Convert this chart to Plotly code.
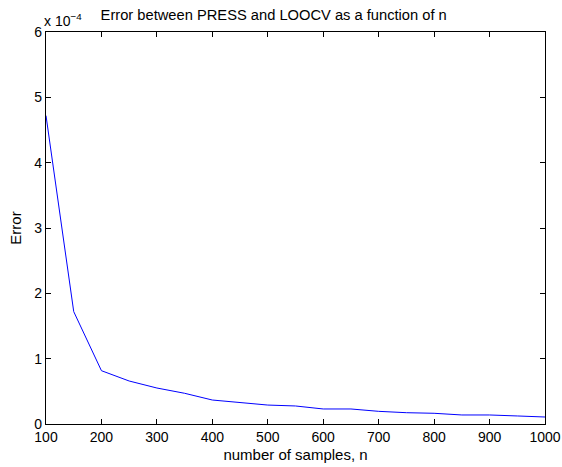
import plotly.graph_objects as go

n_samples = [100, 150, 200, 250, 300, 350, 400, 450, 500, 550, 600, 650, 700, 750, 800, 850, 900, 950, 1000]
error = [4.72e-4, 1.72e-4, 0.816e-4, 0.658e-4, 0.551e-4, 0.47e-4, 0.367e-4, 0.326e-4, 0.29e-4, 0.276e-4,
         0.23e-4, 0.23e-4, 0.194e-4, 0.173e-4, 0.164e-4, 0.138e-4, 0.138e-4, 0.123e-4, 0.107e-4]
x_ticks = [100, 200, 300, 400, 500, 600, 700, 800, 900, 1000]
y_tick_vals = [0, 1e-4, 2e-4, 3e-4, 4e-4, 5e-4, 6e-4]
y_tick_text = ["0", "1", "2", "3", "4", "5", "6"]

FONT = "Liberation Sans, Arial, Helvetica, sans-serif"

fig = go.Figure()
fig.add_trace(go.Scatter(x=n_samples, y=error, mode="lines",
                         line=dict(color="#0000ff", width=1), showlegend=False))

axis_common = dict(showgrid=False, zeroline=False, showline=True, linecolor="black", linewidth=1.2,
                   mirror="ticks", ticks="inside", ticklen=5, tickcolor="black", tickwidth=1,
                   automargin=False,
                   tickfont=dict(family=FONT, size=14, color="black"))

fig.update_layout(
    width=562, height=467,
    margin=dict(l=45.5, r=16.7, t=32, b=42.5, autoexpand=False),
    paper_bgcolor="white", plot_bgcolor="white",
    font=dict(family=FONT, size=14, color="black"),
    title=dict(text="Error between PRESS and LOOCV as a function of n", x=0.487, xanchor="center",
               y=0.979, yanchor="top", font=dict(family=FONT, size=14.7, color="black")),
    xaxis=dict(range=[100, 1000], tickvals=x_ticks,
               title=dict(text="number of samples, n", font=dict(family=FONT, size=15), standoff=5),
               **axis_common),
    yaxis=dict(range=[0, 6e-4], tickvals=y_tick_vals, ticktext=y_tick_text,
               title=dict(text="Error", font=dict(family=FONT, size=15), standoff=9),
               **axis_common),
    annotations=[dict(text="x 10<sup>−4</sup>", xref="paper", yref="paper", x=0.0, y=1.0,
                      xanchor="left", yanchor="bottom", showarrow=False, xshift=-4, yshift=1,
                      font=dict(family=FONT, size=14, color="black"))],
)

fig.write_html("out.html", config={"displayModeBar": False},
               post_script="document.body.style.margin='0';document.body.style.overflow='hidden';")
